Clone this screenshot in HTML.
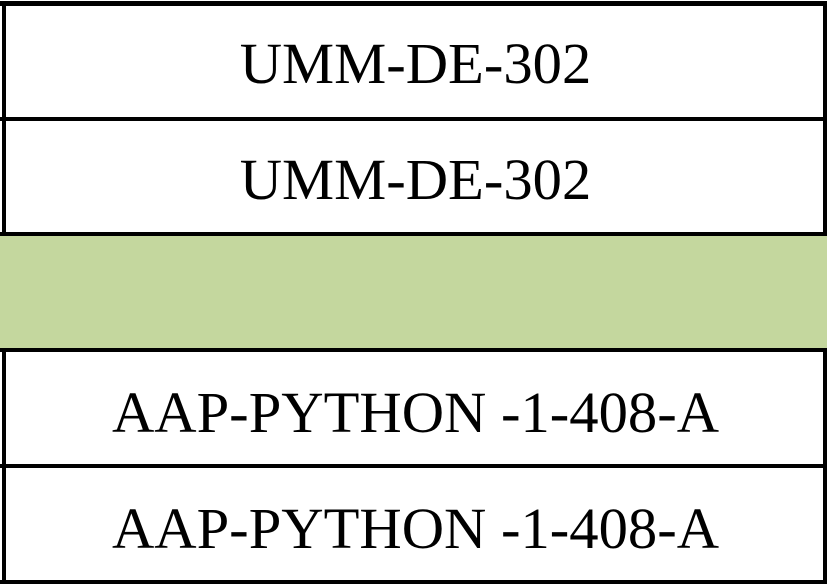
<!DOCTYPE html>
<html><head><style>
body{margin:0;width:827px;height:585px;background:#fff;position:relative;overflow:hidden;font-family:"Liberation Serif",serif;}
.h{position:absolute;left:0;width:827px;height:4px;background:#000;}
.v{position:absolute;width:4px;background:#000;}
.t{position:absolute;left:2px;width:827px;text-align:center;font-size:58.6px;line-height:58px;color:#000;}
</style></head><body>
<div style="position:absolute;left:0;top:235px;width:827px;height:115px;background:#c4d79e"></div>
<div class="h" style="top:1px;height:5px"></div>
<div class="h" style="top:117px"></div>
<div class="h" style="top:232px"></div>
<div class="h" style="top:348px"></div>
<div class="h" style="top:464px"></div>
<div class="h" style="top:580px"></div>
<div class="v" style="left:2px;top:1px;height:234px"></div>
<div class="v" style="left:823px;top:1px;height:234px"></div>
<div class="v" style="left:2px;top:348px;height:236px"></div>
<div class="v" style="left:823px;top:348px;height:236px"></div>
<div class="t" style="top:35px">UMM-DE-302</div>
<div class="t" style="top:151px">UMM-DE-302</div>
<div class="t" style="top:384px">AAP-PYTHON -1-408-A</div>
<div class="t" style="top:500px">AAP-PYTHON -1-408-A</div>
</body></html>
